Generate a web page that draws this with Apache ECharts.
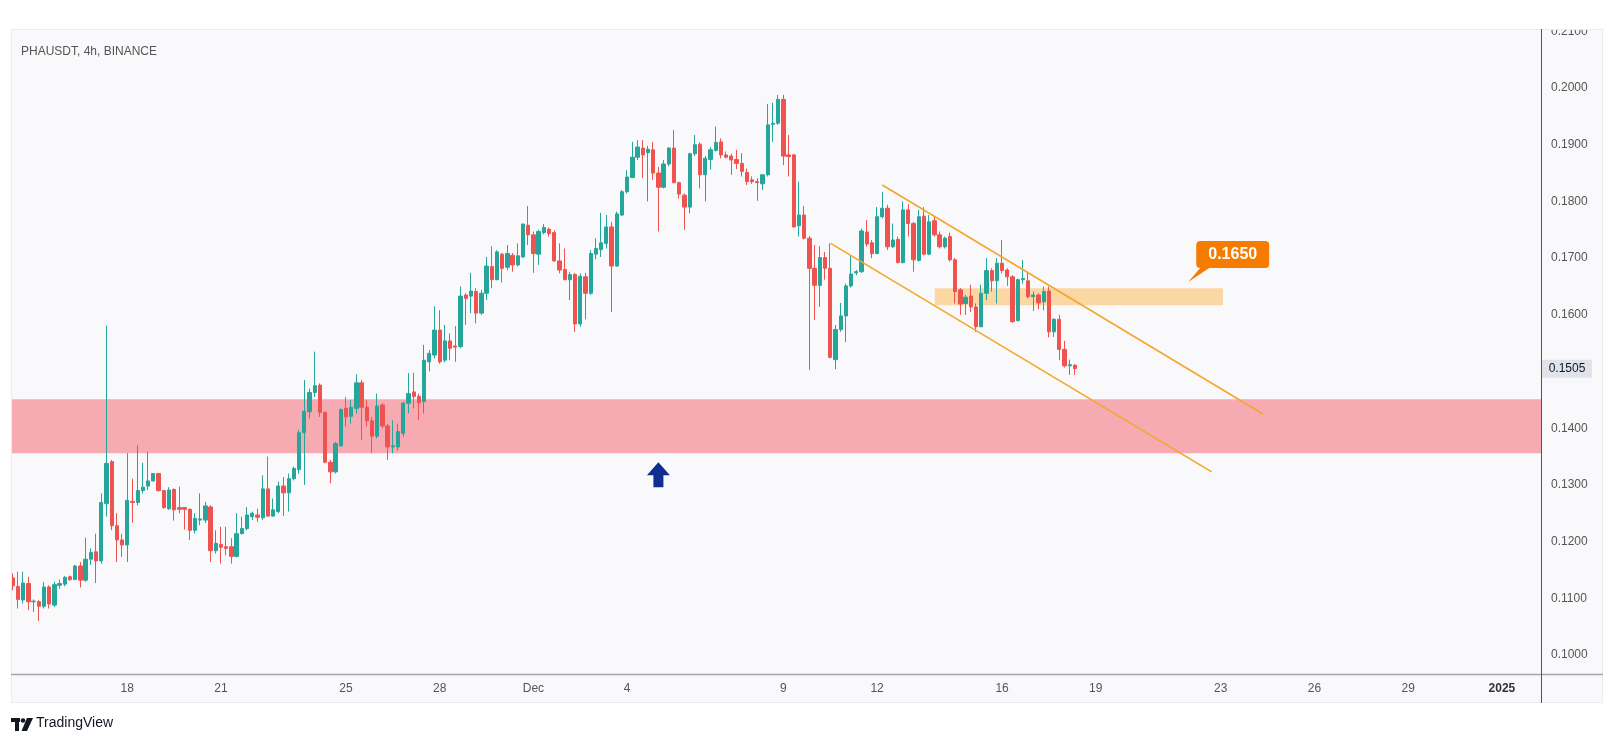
<!DOCTYPE html>
<html>
<head>
<meta charset="utf-8">
<title>PHAUSDT, 4h, BINANCE</title>
<script src="https://cdn.jsdelivr.net/npm/echarts@6/dist/echarts.min.js"></script>
<style>
  html, body { margin: 0; padding: 0; background: #fff; }
  #chart { width: 1615px; height: 744px; }
</style>
</head>
<body>
<div id="chart"></div>
<script>
// 4h bars, first bar opens 2024-11-14 08:00 UTC
const firstBar = Date.UTC(2024, 10, 14, 8)
const barMs = 4 * 3600 * 1000

// [open, high, low, close]
const candles = [
  [0.1136,0.1144,0.1114,0.1122],[0.1121,0.1147,0.1082,0.1098],[0.1097,0.1147,0.1091,0.1127],[0.1126,0.1138,0.1079,0.1094],[0.1094,0.1098,0.1076,0.1095],
  [0.1094,0.1097,0.1060,0.1086],[0.1086,0.1129,0.1082,0.1120],[0.1120,0.1123,0.1082,0.1090],[0.1088,0.1129,0.1085,0.1124],[0.1123,0.1133,0.1117,0.1126],
  [0.1125,0.1139,0.1121,0.1137],[0.1138,0.1140,0.1131,0.1133],[0.1133,0.1159,0.1132,0.1157],[0.1157,0.1164,0.1119,0.1132],[0.1132,0.1207,0.1129,0.1169],
  [0.1169,0.1188,0.1159,0.1181],[0.1182,0.1214,0.1127,0.1166],[0.1166,0.1285,0.1161,0.1269],[0.1267,0.1581,0.1244,0.1338],[0.1341,0.1344,0.1220,0.1228],
  [0.1228,0.1250,0.1164,0.1203],[0.1203,0.1214,0.1173,0.1194],[0.1194,0.1356,0.1164,0.1273],[0.1271,0.1311,0.1233,0.1269],[0.1269,0.1370,0.1264,0.1290],
  [0.1290,0.1339,0.1285,0.1296],[0.1298,0.1358,0.1291,0.1307],[0.1307,0.1321,0.1306,0.1320],[0.1320,0.1321,0.1288,0.1290],[0.1290,0.1291,0.1258,0.1260],
  [0.1258,0.1296,0.1256,0.1291],[0.1292,0.1294,0.1237,0.1256],[0.1260,0.1297,0.1250,0.1257],[0.1260,0.1261,0.1221,0.1257],[0.1257,0.1258,0.1203,0.1220],
  [0.1220,0.1250,0.1214,0.1241],[0.1238,0.1285,0.1229,0.1240],[0.1238,0.1270,0.1233,0.1263],[0.1261,0.1264,0.1164,0.1184],[0.1184,0.1220,0.1179,0.1197],
  [0.1195,0.1226,0.1161,0.1190],[0.1191,0.1226,0.1176,0.1188],[0.1191,0.1206,0.1161,0.1174],[0.1174,0.1250,0.1172,0.1214],[0.1214,0.1244,0.1213,0.1223],
  [0.1223,0.1261,0.1220,0.1247],[0.1244,0.1253,0.1238,0.1250],[0.1247,0.1258,0.1235,0.1243],[0.1242,0.1317,0.1238,0.1293],[0.1293,0.1350,0.1244,0.1245],
  [0.1245,0.1276,0.1244,0.1256],[0.1253,0.1306,0.1250,0.1298],[0.1298,0.1314,0.1245,0.1286],[0.1286,0.1320,0.1253,0.1311],[0.1311,0.1332,0.1308,0.1329],
  [0.1327,0.1397,0.1320,0.1392],[0.1392,0.1485,0.1300,0.1430],[0.1429,0.1470,0.1417,0.1463],[0.1463,0.1535,0.1455,0.1475],[0.1476,0.1479,0.1420,0.1428],
  [0.1428,0.1429,0.1338,0.1340],[0.1340,0.1344,0.1303,0.1323],[0.1323,0.1376,0.1320,0.1373],[0.1369,0.1435,0.1367,0.1433],[0.1435,0.1455,0.1403,0.1420],
  [0.1421,0.1450,0.1408,0.1437],[0.1435,0.1495,0.1426,0.1480],[0.1480,0.1485,0.1379,0.1437],[0.1437,0.1450,0.1403,0.1413],[0.1413,0.1420,0.1356,0.1386],
  [0.1386,0.1461,0.1382,0.1439],[0.1441,0.1444,0.1400,0.1404],[0.1404,0.1408,0.1344,0.1367],[0.1367,0.1414,0.1356,0.1369],[0.1367,0.1408,0.1361,0.1394],
  [0.1391,0.1447,0.1385,0.1444],[0.1444,0.1497,0.1426,0.1461],[0.1464,0.1498,0.1435,0.1456],[0.1456,0.1461,0.1414,0.1445],[0.1447,0.1547,0.1426,0.1520],
  [0.1517,0.1538,0.1500,0.1532],[0.1529,0.1615,0.1523,0.1573],[0.1573,0.1608,0.1514,0.1517],[0.1520,0.1582,0.1516,0.1554],[0.1554,0.1567,0.1520,0.1541],
  [0.1545,0.1580,0.1517,0.1543],[0.1544,0.1650,0.1541,0.1633],[0.1635,0.1638,0.1582,0.1629],[0.1633,0.1674,0.1603,0.1642],[0.1641,0.1647,0.1585,0.1603],
  [0.1603,0.1644,0.1600,0.1638],[0.1638,0.1702,0.1626,0.1686],[0.1685,0.1721,0.1647,0.1662],[0.1662,0.1714,0.1661,0.1711],[0.1707,0.1709,0.1657,0.1682],
  [0.1684,0.1723,0.1679,0.1708],[0.1705,0.1709,0.1676,0.1688],[0.1688,0.1726,0.1685,0.1704],[0.1702,0.1761,0.1701,0.1760],[0.1758,0.1792,0.1723,0.1741],
  [0.1741,0.1747,0.1674,0.1708],[0.1707,0.1750,0.1688,0.1747],[0.1745,0.1760,0.1742,0.1754],[0.1751,0.1754,0.1738,0.1743],[0.1745,0.1749,0.1694,0.1695],
  [0.1695,0.1726,0.1673,0.1679],[0.1680,0.1717,0.1661,0.1662],[0.1662,0.1676,0.1626,0.1671],[0.1671,0.1674,0.1570,0.1584],[0.1584,0.1673,0.1579,0.1668],
  [0.1667,0.1674,0.1592,0.1638],[0.1638,0.1714,0.1635,0.1708],[0.1707,0.1735,0.1698,0.1717],[0.1715,0.1780,0.1702,0.1727],[0.1726,0.1776,0.1717,0.1755],
  [0.1755,0.1764,0.1605,0.1686],[0.1686,0.1782,0.1685,0.1778],[0.1776,0.1820,0.1774,0.1817],[0.1817,0.1855,0.1814,0.1843],[0.1842,0.1905,0.1841,0.1878],
  [0.1878,0.1908,0.1873,0.1896],[0.1894,0.1908,0.1841,0.1882],[0.1886,0.1898,0.1800,0.1892],[0.1891,0.1905,0.1838,0.1850],[0.1850,0.1861,0.1747,0.1825],
  [0.1825,0.1873,0.1823,0.1866],[0.1866,0.1896,0.1862,0.1894],[0.1894,0.1926,0.1832,0.1833],[0.1833,0.1835,0.1805,0.1813],[0.1811,0.1814,0.1750,0.1790],
  [0.1790,0.1886,0.1779,0.1884],[0.1884,0.1917,0.1880,0.1900],[0.1901,0.1904,0.1823,0.1847],[0.1847,0.1880,0.1800,0.1876],[0.1874,0.1896,0.1856,0.1891],
  [0.1890,0.1932,0.1888,0.1904],[0.1905,0.1911,0.1876,0.1882],[0.1882,0.1888,0.1876,0.1878],[0.1880,0.1884,0.1847,0.1873],[0.1874,0.1891,0.1857,0.1867],
  [0.1867,0.1885,0.1844,0.1853],[0.1851,0.1858,0.1829,0.1835],[0.1838,0.1844,0.1831,0.1835],[0.1835,0.1841,0.1801,0.1833],[0.1831,0.1848,0.1820,0.1847],
  [0.1847,0.1972,0.1844,0.1935],[0.1936,0.1974,0.1905,0.1938],[0.1938,0.1988,0.1935,0.1980],[0.1980,0.1988,0.1864,0.1880],[0.1882,0.1917,0.1844,0.1879],
  [0.1882,0.1884,0.1754,0.1755],[0.1757,0.1835,0.1738,0.1776],[0.1776,0.1792,0.1733,0.1735],[0.1735,0.1739,0.1503,0.1682],[0.1682,0.1723,0.1591,0.1652],
  [0.1652,0.1721,0.1614,0.1701],[0.1701,0.1711,0.1662,0.1682],[0.1682,0.1726,0.1523,0.1525],[0.1521,0.1582,0.1504,0.1574],[0.1574,0.1621,0.1570,0.1598],
  [0.1598,0.1655,0.1552,0.1651],[0.1651,0.1705,0.1648,0.1672],[0.1674,0.1679,0.1670,0.1676],[0.1676,0.1752,0.1674,0.1748],[0.1746,0.1767,0.1720,0.1725],
  [0.1727,0.1732,0.1700,0.1708],[0.1708,0.1790,0.1707,0.1773],[0.1773,0.1817,0.1770,0.1788],[0.1788,0.1794,0.1714,0.1720],[0.1720,0.1761,0.1718,0.1732],
  [0.1733,0.1738,0.1691,0.1692],[0.1692,0.1800,0.1691,0.1785],[0.1785,0.1795,0.1738,0.1761],[0.1761,0.1764,0.1676,0.1697],[0.1696,0.1785,0.1694,0.1773],
  [0.1774,0.1790,0.1705,0.1707],[0.1707,0.1776,0.1705,0.1764],[0.1766,0.1774,0.1738,0.1741],[0.1741,0.1747,0.1717,0.1720],[0.1720,0.1738,0.1717,0.1735],
  [0.1738,0.1745,0.1694,0.1697],[0.1697,0.1700,0.1620,0.1641],[0.1644,0.1647,0.1600,0.1619],[0.1620,0.1635,0.1600,0.1631],[0.1633,0.1653,0.1605,0.1614],
  [0.1614,0.1620,0.1570,0.1579],[0.1579,0.1653,0.1578,0.1638],[0.1638,0.1700,0.1626,0.1678],[0.1678,0.1682,0.1641,0.1660],[0.1660,0.1700,0.1620,0.1691],
  [0.1691,0.1732,0.1673,0.1678],[0.1679,0.1682,0.1651,0.1667],[0.1667,0.1670,0.1586,0.1588],[0.1590,0.1664,0.1588,0.1662],[0.1662,0.1697,0.1655,0.1664],
  [0.1660,0.1674,0.1629,0.1632],[0.1632,0.1641,0.1607,0.1635],[0.1635,0.1638,0.1610,0.1621],[0.1623,0.1650,0.1608,0.1641],[0.1642,0.1650,0.1560,0.1570],
  [0.1570,0.1594,0.1561,0.1592],[0.1592,0.1600,0.1520,0.1539],[0.1539,0.1554,0.1507,0.1510],[0.1510,0.1521,0.1494,0.1512],[0.1511,0.1513,0.1494,0.1505]
]

const tickDays = ['2024-11-18','2024-11-21','2024-11-25','2024-11-28','2024-12-01','2024-12-04','2024-12-09',
  '2024-12-12','2024-12-16','2024-12-19','2024-12-23','2024-12-26','2024-12-29','2025-01-01']
const tickLabels = ['18','21','25','28','Dec','4','9','12','16','19','23','26','29','2025']
const priceTicks = [0.10, 0.11, 0.12, 0.13, 0.14, 0.16, 0.17, 0.18, 0.19, 0.20, 0.21]

const lastPrice = 0.1505
const supportZone = [0.1356, 0.1451]
const resistTimes = ['2024-12-13T20:20:00Z', '2024-12-23T01:40:00Z']
const resistPrices = [0.1617, 0.1647]
const channelUpper = [['2024-12-12T04:00:00Z', 0.1829], ['2024-12-24T08:20:00Z', 0.1425]]
const channelLower = [['2024-12-10T12:20:00Z', 0.1726], ['2024-12-22T17:00:00Z', 0.1323]]
const arrowPoint = ['2024-12-05T00:00:00Z', 0.1340]
const calloutPoint = ['2024-12-21T23:00:00Z', 0.1658]
const calloutText = '0.1650'

const FONT = '"Liberation Sans", Arial, sans-serif'
const UP = '#26a69a', DOWN = '#ef5350'
const X_MIN = Date.UTC(2024, 10, 14, 6, 40)
const X_MAX = Date.UTC(2025, 0, 2, 6)

const tickTimes = tickDays.map(d => Date.parse(d + 'T00:00:00Z'))
const kData = candles.map((c, i) => [firstBar + i * barMs, c[0], c[3], c[2], c[1]])
const toPts = arr => arr.map(p => [Date.parse(p[0]), p[1]])

const chart = echarts.init(document.getElementById('chart'))

const option = {
  animation: false,
  backgroundColor: '#f9f9fb',
  textStyle: { fontFamily: FONT },
  title: {
    text: 'PHAUSDT, 4h, BINANCE',
    left: 16, top: 41,
    textStyle: { fontSize: 12, fontWeight: 'normal', color: '#555', fontFamily: FONT }
  },
  grid: { left: 11, right: 74, top: 29, bottom: 70 },
  xAxis: {
    // timestamps on a plain value axis so the tick dates can be listed
    type: 'value',
    min: X_MIN,
    max: X_MAX,
    axisLine: { show: false },
    axisTick: { show: false },
    splitLine: { show: false },
    axisLabel: {
      customValues: tickTimes,
      margin: 9,
      fontSize: 12,
      color: '#555',
      fontFamily: FONT,
      formatter: function (v) {
        const i = tickTimes.indexOf(v)
        const s = i >= 0 ? tickLabels[i] : ''
        return s === '2025' ? '{b|2025}' : s
      },
      rich: { b: { fontWeight: 'bold', fontSize: 12, color: '#333', fontFamily: FONT } }
    }
  },
  yAxis: {
    type: 'value',
    position: 'right',
    min: 0.09665,
    max: 0.21041,
    axisLine: { show: false },
    axisTick: { show: false },
    splitLine: { show: false },
    axisLabel: {
      customValues: priceTicks,
      margin: 10,
      fontSize: 12,
      color: '#555',
      fontFamily: FONT,
      formatter: v => v.toFixed(4)
    }
  },
  series: [
    {
      type: 'candlestick',
      data: kData,
      barWidth: 3.8,
      itemStyle: { color: UP, color0: DOWN, borderColor: UP, borderColor0: DOWN, borderWidth: 1 }
    },
    {
      type: 'line',
      z: 4,
      data: toPts(channelUpper),
      symbol: 'none',
      lineStyle: { color: '#f4a62a', width: 1.6 },
      markArea: {
        silent: true,
        itemStyle: { color: 'rgba(242,54,69,0.4)' },
        data: [[{ yAxis: supportZone[0] }, { yAxis: supportZone[1] }]]
      }
    },
    {
      type: 'line',
      z: 4,
      data: toPts(channelLower),
      symbol: 'none',
      lineStyle: { color: '#f4a62a', width: 1.6 },
      markArea: {
        silent: true,
        itemStyle: { color: 'rgba(255,152,0,0.35)' },
        data: [[
          { xAxis: Date.parse(resistTimes[0]), yAxis: resistPrices[0] },
          { xAxis: Date.parse(resistTimes[1]), yAxis: resistPrices[1] }
        ]]
      }
    },
    {
      // blue up arrow
      type: 'custom',
      z: 5,
      data: [[Date.parse(arrowPoint[0]), arrowPoint[1]]],
      renderItem: function (params, api) {
        const p = api.coord([api.value(0), api.value(1)])
        const x = p[0], y = p[1]
        return {
          type: 'polygon',
          shape: { points: [[x, y], [x + 11.5, y + 13], [x + 5, y + 13], [x + 5, y + 25],
            [x - 5, y + 25], [x - 5, y + 13], [x - 11.5, y + 13]] },
          style: { fill: '#0e2f8f' }
        }
      }
    },
    {
      // price callout
      type: 'custom',
      z: 6,
      data: [[Date.parse(calloutPoint[0]), calloutPoint[1]]],
      renderItem: function (params, api) {
        const p = api.coord([api.value(0), api.value(1)])
        const x = p[0], y = p[1]
        return {
          type: 'group',
          children: [
            { type: 'polygon', shape: { points: [[x, y], [x + 12, y - 14], [x + 21, y - 14]] }, style: { fill: '#f57c00' } },
            { type: 'rect', shape: { x: x + 8, y: y - 41, width: 73, height: 27, r: 4 }, style: { fill: '#f57c00' } },
            { type: 'text', style: { x: x + 44.5, y: y - 27.5, text: calloutText, fill: '#fff',
              font: 'bold 16px ' + FONT, align: 'center', verticalAlign: 'middle' } }
          ]
        }
      }
    },
    {
      // last price tag on the price scale
      type: 'custom',
      z: 7,
      clip: false,
      data: [[X_MAX, lastPrice]],
      renderItem: function (params, api) {
        const p = api.coord([api.value(0), api.value(1)])
        const x = p[0], y = p[1]
        return {
          type: 'group',
          children: [
            { type: 'rect', shape: { x: x + 1, y: y - 9, width: 50, height: 18 }, style: { fill: '#e1e3ea' } },
            { type: 'text', style: { x: x + 26, y: y, text: api.value(1).toFixed(4), fill: '#131722',
              font: '12px ' + FONT, align: 'center', verticalAlign: 'middle' } }
          ]
        }
      }
    }
  ],
  graphic: [
    // white page margins around the panel
    { type: 'rect', z: 100, shape: { x: 0, y: 0, width: 1615, height: 29 }, style: { fill: '#fff' } },
    { type: 'rect', z: 100, shape: { x: 0, y: 703, width: 1615, height: 41 }, style: { fill: '#fff' } },
    { type: 'rect', z: 100, shape: { x: 0, y: 0, width: 11, height: 744 }, style: { fill: '#fff' } },
    { type: 'rect', z: 100, shape: { x: 1603, y: 0, width: 12, height: 744 }, style: { fill: '#fff' } },
    { type: 'rect', z: 101, shape: { x: 11.5, y: 29.5, width: 1591, height: 673 }, style: { fill: 'none', stroke: '#ebecf0', lineWidth: 1 } },
    // axis rules
    { type: 'line', z: 102, shape: { x1: 11, y1: 674.5, x2: 1603, y2: 674.5 }, style: { stroke: '#a3a6ae', lineWidth: 1.5 } },
    { type: 'line', z: 102, shape: { x1: 1541.5, y1: 29, x2: 1541.5, y2: 703 }, style: { stroke: '#555', lineWidth: 1 } },
    // TradingView mark
    { type: 'rect', z: 103, shape: { x: 11, y: 718, width: 9, height: 4 }, style: { fill: '#131722' } },
    { type: 'rect', z: 103, shape: { x: 15, y: 718, width: 4, height: 13 }, style: { fill: '#131722' } },
    { type: 'circle', z: 103, shape: { cx: 23, cy: 720.5, r: 2.3 }, style: { fill: '#131722' } },
    { type: 'polygon', z: 103, shape: { points: [[27, 718], [33, 718], [27, 731], [21.5, 731]] }, style: { fill: '#131722' } },
    { type: 'text', z: 103, left: 36, top: 716, style: { text: 'TradingView', fill: '#131722', font: '14px ' + FONT } }
  ]
}

chart.setOption(option)
</script>
</body>
</html>
